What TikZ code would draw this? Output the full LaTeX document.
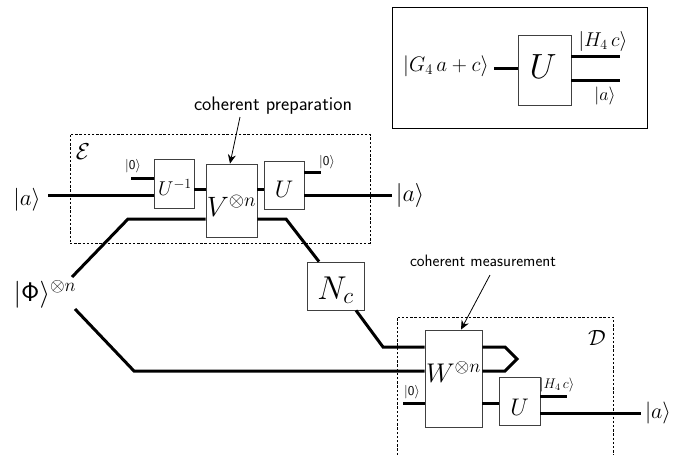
\documentclass[tikz,border=0pt]{standalone}
\usepackage{fix-cm}
\usepackage{amsmath,amssymb}
\usepackage{xcolor}
\usepackage{tikz}
\usetikzlibrary{arrows.meta,calc}

\newcommand{\ket}[1]{|#1\rangle}
\newcommand{\gatelabel}[3]{\fontsize{#1}{#1}\selectfont\raisebox{#2}[0pt][0pt]{$#3$}}

\begin{document}
\begin{tikzpicture}[
		x=1pt,
		y=-1pt,
		gate/.style={draw=black!75, line width=0.8pt, fill=white, inner sep=0pt},
		wire/.style={line width=3pt, line join=miter},
		dashbox/.style={draw, dashed, line width=0.6pt, dash pattern=on 2.4pt off 1.8pt},
		pointer/.style={-{Stealth[length=9pt,width=8pt]}, line width=0.8pt},
		every node/.style={inner sep=0pt}
	]
	\useasboundingbox (0,0) rectangle (683,455);

	% inset
	\node[draw, line width=0.9pt, minimum width=255pt, minimum height=121pt] (inset) at (519.5,67.5) {};
	\node[gate, minimum width=53pt, minimum height=70pt] (ubig) at (544.5,70) {\hspace*{-3pt}\gatelabel{35}{-9pt}{U}};
	\node (insetin) at (446,66) {\fontsize{21}{21}\selectfont $\ket{G_4\,a+c}$};
	\node (insetup) at (603,41) {\fontsize{20}{20}\selectfont $\ket{H_4\,c}$};
	\node (insetdn) at (605,96) {\fontsize{18}{20}\selectfont $\ket{a}$};
	\coordinate (insetstart) at (494,68);
	\coordinate (insetend1) at (620,56);
	\coordinate (insetend2) at (620,80);
	\draw[wire] (insetstart) -- (insetstart -| ubig.west);
	\draw[wire] (insetend1 -| ubig.east) -- (insetend1);
	\draw[wire] (insetend2 -| ubig.east) -- (insetend2);

	% encoder
	\node[dashbox, minimum width=300pt, minimum height=109pt] (enc) at (220,188.5) {};
	\node (enclabel) at (83,152) {\fontsize{23}{23}\selectfont $\mathcal{E}$};
	\node[gate, minimum width=40pt, minimum height=49pt] (uinv) at (174,183.5) {\hspace*{2pt}\gatelabel{20}{-12pt}{U^{-1}}};
	\node[gate, minimum width=51pt, minimum height=73pt] (vgate) at (231.5,200.5) {\gatelabel{28}{-16pt}{V^{\otimes n}}};
	\node[gate, minimum width=40pt, minimum height=48pt] (ugate) at (284,185) {\gatelabel{24}{-12pt}{U}};
	\node (ain) at (27,200) {\fontsize{23}{23}\selectfont $\ket{a}$};
	\node (aout) at (410,195) {\fontsize{24}{24}\selectfont $\ket{a}$};
	\node (zeroa) at (133,166) {\fontsize{13.5}{14}\selectfont $\ket{\mathsf{0}}$};
	\node (zerob) at (327,162) {\fontsize{13.5}{14}\selectfont $\ket{\mathsf{0}}$};
	\coordinate (astart) at (48,195);
	\coordinate (aend) at (392,195);
	\coordinate (stuba) at (131,178);
	\coordinate (stubb) at (321,172);
	\draw[wire] (astart) -- (astart -| uinv.west);
	\draw[wire] (stuba) -- (stuba -| uinv.west);
	\draw[wire] (uinv.east |- 0,189) -- (vgate.west |- 0,189);
	\draw[wire] (vgate.east |- 0,189) -- (ugate.west |- 0,189);
	\draw[wire] (stubb -| ugate.east) -- (stubb);
	\draw[wire] (aend -| ugate.east) -- (aend);

	\node (prep) at (273,106) {\fontsize{19.6}{20}\selectfont\sffamily coherent preparation};
	\draw[pointer] (240,117) -- (vgate.north -| 230,0);

	% channel
	\node (phi) at (45,294) {\fontsize{27}{27}\selectfont $\ket{\mathsf{\Phi}}^{\otimes n}$};
	\node[gate, minimum width=57pt, minimum height=48pt] (noise) at (335.5,286) {\gatelabel{33}{-13pt}{N_c}};
	\coordinate (phiup) at (72,277);
	\coordinate (phidn) at (75,309);
	\draw[wire] (phiup) -- (128,219) -- (vgate.west |- 0,219);
	\draw[wire] (vgate.east |- 0,219) -- (286,219) -- (noise.north -| 319,0);

	% decoder
	\draw[dashbox] (397,455) -- (397,317) coordinate (deca) -- (613,317) coordinate (decb) -- (613,455);
	\node (declabel) at (597,338) {\fontsize{22}{22}\selectfont $\mathcal{D}$};
	\node[gate, minimum width=57pt, minimum height=97pt] (wgate) at (453.5,378.5) {\gatelabel{27}{-4pt}{W^{\otimes n}}};
	\node[gate, minimum width=41pt, minimum height=48pt] (udec) at (519.5,401) {\gatelabel{24}{-14pt}{U}};
	\node (zeroc) at (412,392) {\fontsize{13.5}{14}\selectfont $\ket{\mathsf{0}}$};
	\node (hout) at (557,385) {\fontsize{14}{14}\selectfont $\ket{H_4\,c}$};
	\node (afinal) at (658,413) {\fontsize{22}{22}\selectfont $\ket{a}$};
	\coordinate (stubc) at (403,403);
	\coordinate (stubd) at (567,396);
	\coordinate (dend) at (641,413);
	\draw[wire] (noise.south -| 356,0) -- (383,347) -- (wgate.west |- 0,347);
	\draw[wire] (phidn) -- (134,371) -- (wgate.west |- 0,371);
	\draw[wire] (wgate.east |- 0,347) -- (505,347) -- (517,359) -- (505,371) -- (wgate.east |- 0,371);
	\draw[wire] (stubc) -- (stubc -| wgate.west);
	\draw[wire] (wgate.east |- 0,403) -- (udec.west |- 0,403);
	\draw[wire] (stubd -| udec.east) -- (stubd);
	\draw[wire] (dend -| udec.east) -- (dend);

	\node (meas) at (483,261) {\fontsize{16.5}{17}\selectfont\sffamily coherent measurement};
	\draw[pointer] (490,275) -- (wgate.north -| 461,0);
\end{tikzpicture}
\end{document}
